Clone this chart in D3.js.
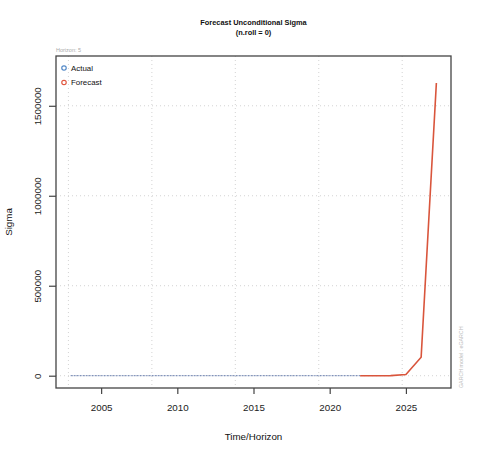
<!DOCTYPE html>
<html>
<head>
<meta charset="utf-8">
<script src="https://cdn.jsdelivr.net/npm/d3@7"></script>
<style>
  body { margin: 0; background: #fff; }
  svg { display: block; font-family: "Liberation Sans", Arial, sans-serif; }
</style>
</head>
<body>
<div id="chart"></div>
<script>
// Data
const actualYears = [2003, 2004, 2005, 2006, 2007, 2008, 2009, 2010, 2011, 2012,
                     2013, 2014, 2015, 2016, 2017, 2018, 2019, 2020, 2021, 2022];
const actualSigma = [14, 15, 13, 12, 14, 18, 21, 17, 16, 15,
                     13, 12, 14, 13, 12, 13, 15, 19, 16, 15];
// forecast starts at the last actual point
const forecastYears = [2022, 2023, 2024, 2025, 2026, 2027];
const forecastSigma = [15, 32, 470, 7000, 103000, 1627000];
const xTickYears = [2005, 2010, 2015, 2020, 2025];
const yTicks = [0, 500000, 1000000, 1500000];
const gridDays = [12000, 14000, 16000, 18000, 20000]; // days since 1970, R grid()
const legendItems = [
  { label: 'Actual', color: '#4f86c6' },
  { label: 'Forecast', color: '#e0563f' }
];

const width = 480, height = 458;
const box = { left: 56, right: 451, top: 56, bottom: 388 };

const yearDate = y => new Date(Date.UTC(y, 0, 1));

const svg = d3.select('#chart').append('svg')
  .attr('width', width)
  .attr('height', height);

// x: R style 4% padding
const allYears = actualYears.concat(forecastYears);
const [x0, x1] = d3.extent(allYears).map(yearDate);
const xPad = (x1 - x0) * 0.04;
const x = d3.scaleUtc()
  .domain([new Date(+x0 - xPad), new Date(+x1 + xPad)])
  .range([box.left, box.right]);

// y: ylim = c(0.95*min, 1.05*max), then 4% padding
const allSigma = actualSigma.concat(forecastSigma);
const yLo = 0.95 * d3.min(allSigma), yHi = 1.05 * d3.max(allSigma);
const yPad = (yHi - yLo) * 0.04;
const y = d3.scaleLinear()
  .domain([yLo - yPad, yHi + yPad])
  .range([box.bottom, box.top]);

// grid
const grid = svg.append('g')
  .attr('stroke', '#d3d3d3')
  .attr('stroke-width', 1)
  .attr('stroke-dasharray', '1,3');
grid.selectAll('line.v')
  .data(gridDays)
  .enter().append('line')
  .attr('x1', d => x(new Date(d * 86400000)))
  .attr('x2', d => x(new Date(d * 86400000)))
  .attr('y1', box.top)
  .attr('y2', box.bottom);
grid.selectAll('line.h')
  .data(yTicks)
  .enter().append('line')
  .attr('x1', box.left)
  .attr('x2', box.right)
  .attr('y1', d => y(d))
  .attr('y2', d => y(d));

// lines
const line = d3.line()
  .x(d => x(yearDate(d[0])))
  .y(d => y(d[1]));

svg.append('path')
  .datum(actualYears.map((yr, i) => [yr, actualSigma[i]]))
  .attr('d', line)
  .attr('fill', 'none')
  .attr('stroke', '#6a7fae')
  .attr('stroke-width', 1)
  .attr('stroke-dasharray', '2,1');

svg.append('path')
  .datum(forecastYears.map((yr, i) => [yr, forecastSigma[i]]))
  .attr('d', line)
  .attr('fill', 'none')
  .attr('stroke', '#d9553c')
  .attr('stroke-width', 1.6);

// box
svg.append('rect')
  .attr('x', box.left)
  .attr('y', box.top)
  .attr('width', box.right - box.left)
  .attr('height', box.bottom - box.top)
  .attr('fill', 'none')
  .attr('stroke', '#444')
  .attr('stroke-width', 1.3);

// axes
const xAxis = svg.append('g')
  .attr('transform', `translate(0,${box.bottom})`)
  .call(d3.axisBottom(x)
    .tickValues(xTickYears.map(yearDate))
    .tickFormat(d3.utcFormat('%Y'))
    .tickSize(6)
    .tickPadding(10));
xAxis.select('.domain').remove();
xAxis.selectAll('line').attr('stroke', '#444').attr('stroke-width', 1.2);
xAxis.selectAll('text')
  .attr('font-size', '9.8px')
  .attr('fill', '#222')
  .attr('font-family', '"Liberation Sans", Arial, sans-serif');

const yAxis = svg.append('g')
  .attr('transform', `translate(${box.left},0)`)
  .call(d3.axisLeft(y)
    .tickValues(yTicks)
    .tickFormat(d3.format('d'))
    .tickSize(7));
yAxis.select('.domain').remove();
yAxis.selectAll('line').attr('stroke', '#444').attr('stroke-width', 1.2);
yAxis.selectAll('text')
  .attr('font-size', '9.8px')
  .attr('fill', '#222')
  .attr('font-family', '"Liberation Sans", Arial, sans-serif')
  .attr('x', null)
  .attr('dy', null)
  .attr('text-anchor', 'middle')
  .attr('transform', 'translate(-15,0) rotate(-90)');

// titles
svg.append('text')
  .attr('x', (box.left + box.right) / 2)
  .attr('y', 25)
  .attr('text-anchor', 'middle')
  .attr('font-size', '7.4px')
  .attr('font-weight', 'bold')
  .attr('fill', '#111')
  .text('Forecast Unconditional Sigma');
svg.append('text')
  .attr('x', (box.left + box.right) / 2)
  .attr('y', 35)
  .attr('text-anchor', 'middle')
  .attr('font-size', '7.4px')
  .attr('font-weight', 'bold')
  .attr('fill', '#111')
  .text('(n.roll = 0)');

svg.append('text')
  .attr('x', box.left)
  .attr('y', 52)
  .attr('font-size', '5.5px')
  .attr('fill', '#aaa')
  .text('Horizon: 5');

svg.append('text')
  .attr('transform', `translate(12,${(box.top + box.bottom) / 2}) rotate(-90)`)
  .attr('text-anchor', 'middle')
  .attr('font-size', '9.75px')
  .attr('fill', '#111')
  .text('Sigma');

svg.append('text')
  .attr('x', (box.left + box.right) / 2)
  .attr('y', 440)
  .attr('text-anchor', 'middle')
  .attr('font-size', '9.75px')
  .attr('fill', '#111')
  .text('Time/Horizon');

svg.append('text')
  .attr('transform', `translate(463,${box.bottom}) rotate(-90)`)
  .attr('text-anchor', 'start')
  .attr('font-size', '5.3px')
  .attr('fill', '#bbb')
  .text('GARCH model : eGARCH');

// legend
const legend = svg.append('g')
  .selectAll('g')
  .data(legendItems)
  .enter().append('g')
  .attr('transform', (d, i) => `translate(64,${68 + i * 14.5})`);
legend.append('circle')
  .attr('r', 2.2)
  .attr('fill', 'none')
  .attr('stroke', d => d.color)
  .attr('stroke-width', 1.2);
legend.append('text')
  .attr('x', 7)
  .attr('y', 2.8)
  .attr('font-size', '7.9px')
  .attr('fill', '#111')
  .text(d => d.label);
</script>
</body>
</html>
